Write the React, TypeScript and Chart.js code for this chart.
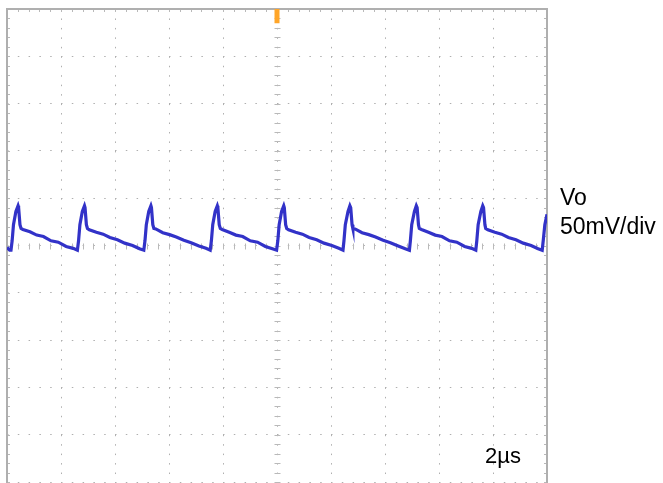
import React, { useEffect, useRef } from "react";
import { Chart, registerables } from "chart.js";

Chart.register(...registerables);

// Time axis (µs), 2 µs/div, 10 divisions
const xMinUs = 0;
const xMaxUs = 20;
const xDivUs = 2;
// Voltage axis (mV), 50 mV/div, 10 divisions
const yMinMv = -250;
const yMaxMv = 250;
const yDivMv = 50;

// Vo ripple trace
const timeUs = [
  0, 0.1,
  0.148, 0.19, 0.24, 0.33, 0.41, 0.43, 0.48, 0.52, 0.59, 0.85, 1.1, 1.35, 1.63, 1.9, 2.19, 2.45,
  2.607, 2.65, 2.7, 2.79, 2.87, 2.89, 2.94, 2.98, 3.05, 3.31, 3.56, 3.81, 4.09, 4.36, 4.65, 4.91,
  5.067, 5.11, 5.16, 5.25, 5.33, 5.35, 5.4, 5.44, 5.51, 5.77, 6.02, 6.27, 6.55, 6.82, 7.11, 7.37,
  7.526, 7.57, 7.62, 7.71, 7.79, 7.81, 7.86, 7.9, 7.97, 8.23, 8.48, 8.73, 9.01, 9.28, 9.57, 9.83,
  9.985, 10.03, 10.08, 10.17, 10.25, 10.27, 10.32, 10.36, 10.43, 10.69, 10.94, 11.19, 11.47, 11.74, 12.03, 12.29,
  12.444, 12.48, 12.53, 12.63, 12.7, 12.73, 12.78, 12.81, 12.89, 13.15, 13.4, 13.65, 13.93, 14.2, 14.49, 14.75,
  14.904, 14.94, 14.99, 15.09, 15.16, 15.19, 15.24, 15.27, 15.35, 15.61, 15.86, 16.11, 16.39, 16.66, 16.95, 17.21,
  17.363, 17.4, 17.45, 17.55, 17.62, 17.65, 17.7, 17.73, 17.81, 18.07, 18.32, 18.57, 18.85, 19.12, 19.41, 19.67,
  19.822, 19.86, 19.92, 20.0,
];
const voMv = [
  -2, -5,
  -5, 5, 22, 36, 42, 40, 22, 18, 17, 14.5, 11, 9.5, 5, 3.5, -1, -3,
  -5, 5, 22, 36, 42, 40, 22, 18, 16.5, 14, 12, 8.5, 6, 2.5, 0, -3.5,
  -5, 5, 22, 36, 42, 40, 22, 18, 17.5, 13.5, 11.5, 9, 5.5, 3, -0.5, -3,
  -5, 5, 22, 36, 42, 40, 22, 18, 17, 14, 11, 9.5, 5, 3.5, -1, -3.5,
  -5, 5, 22, 36, 42, 40, 22, 18, 16.5, 14, 12, 8.5, 6, 2.5, 0, -3,
  -5, 5, 22, 36, 42, 40, 22, 18, 17.5, 13.5, 11.5, 9, 5.5, 3, -0.5, -3.5,
  -5, 5, 22, 36, 42, 40, 22, 18, 17, 14, 11, 9.5, 5, 3.5, -1, -3,
  -5, 5, 22, 36, 42, 40, 22, 18, 16.5, 14, 12, 8.5, 6, 2.5, 0, -3.5,
  -5, 5, 22, 33,
];

// Trigger position marker at the top of the screen
const triggerUs = [10, 10];
const triggerMv = [250, 235];

const channelLabel = "Vo";
const scaleLabel = "50mV/div";
const timeLabel = "2µs";

const scopeFrame = {
  id: "scopeFrame",
  beforeDatasetsDraw(chart: any) {
    const { ctx, chartArea: a, scales } = chart;
    const xs = scales.x;
    const ys = scales.y;
    const cx = Math.round(xs.getPixelForValue((xMinUs + xMaxUs) / 2)) + 0.5;
    const cy = Math.round(ys.getPixelForValue(0)) + 0.5;
    ctx.save();
    ctx.strokeStyle = "rgb(185,185,185)";
    ctx.lineWidth = 1;
    ctx.beginPath();
    const nx = Math.round((xMaxUs - xMinUs) / (xDivUs / 5));
    for (let k = 0; k <= nx; k++) {
      const x = Math.round(xs.getPixelForValue(xMinUs + (k * xDivUs) / 5)) + 0.5;
      ctx.moveTo(x, cy - 3);
      ctx.lineTo(x, cy + 3);
      ctx.moveTo(x, a.top);
      ctx.lineTo(x, a.top + 3);
    }
    const ny = Math.round((yMaxMv - yMinMv) / (yDivMv / 5));
    for (let k = 0; k <= ny; k++) {
      const y = Math.round(ys.getPixelForValue(yMinMv + (k * yDivMv) / 5)) + 0.5;
      ctx.moveTo(cx - 3, y);
      ctx.lineTo(cx + 3, y);
      ctx.moveTo(a.left, y);
      ctx.lineTo(a.left + 3, y);
      ctx.moveTo(a.right, y);
      ctx.lineTo(a.right - 3, y);
    }
    ctx.stroke();
    ctx.strokeStyle = "rgb(175,175,175)";
    ctx.lineWidth = 2;
    ctx.beginPath();
    ctx.moveTo(a.left, a.bottom + 4);
    ctx.lineTo(a.left, a.top);
    ctx.lineTo(a.right, a.top);
    ctx.lineTo(a.right, a.bottom + 4);
    ctx.stroke();
    ctx.restore();
  },
};

export default function App() {
  const canvasRef = useRef<HTMLCanvasElement | null>(null);

  useEffect(() => {
    if (!canvasRef.current) return;
    const trace = timeUs.map((t, i) => ({ x: t, y: voMv[i] }));
    const trigger = triggerUs.map((t, i) => ({ x: t, y: triggerMv[i] }));
    const chart = new Chart(canvasRef.current, {
      type: "scatter",
      data: {
        datasets: [
          {
            label: channelLabel,
            data: trace,
            showLine: true,
            borderColor: "rgb(50,50,200)",
            borderWidth: 3.2,
            pointRadius: 0,
            tension: 0,
          },
          {
            label: "trigger",
            data: trigger,
            showLine: true,
            borderColor: "rgb(255,165,40)",
            borderWidth: 5,
            pointRadius: 0,
            clip: false as any,
          },
        ],
      },
      options: {
        animation: false,
        responsive: false,
        devicePixelRatio: 1,
        layout: { padding: { left: 7, top: 9, right: 116, bottom: 1 } },
        plugins: { legend: { display: false }, tooltip: { enabled: false } },
        scales: {
          x: {
            type: "linear",
            min: xMinUs,
            max: xMaxUs,
            ticks: { display: false, stepSize: xDivUs },
            grid: { color: "rgb(175,175,175)", lineWidth: 1, drawTicks: false },
            border: { display: false, dash: [1.5, 7.96] },
          },
          y: {
            type: "linear",
            min: yMinMv,
            max: yMaxMv,
            ticks: { display: false, stepSize: yDivMv },
            grid: { color: "rgb(175,175,175)", lineWidth: 1, drawTicks: false },
            border: { display: false, dash: [1.5, 9.3] },
          },
        },
      },
      plugins: [scopeFrame],
    });
    return () => chart.destroy();
  }, []);

  const font = '"Liberation Sans", Arial, sans-serif';
  return (
    <div style={{ position: "fixed", left: 0, top: 0, width: 663, height: 483, background: "#fff" }}>
      <canvas ref={canvasRef} width={663} height={483} style={{ display: "block", width: 663, height: 483 }} />
      <div style={{ position: "absolute", left: 560, top: 185.5, fontFamily: font, fontSize: 23, lineHeight: "23px", color: "#000", whiteSpace: "nowrap" }}>{channelLabel}</div>
      <div style={{ position: "absolute", left: 560, top: 214.5, fontFamily: font, fontSize: 23, lineHeight: "23px", color: "#000", whiteSpace: "nowrap" }}>{scaleLabel}</div>
      <div style={{ position: "absolute", left: 485, top: 445.4, fontFamily: font, fontSize: 22, lineHeight: "22px", color: "#000", whiteSpace: "nowrap" }}>{timeLabel}</div>
    </div>
  );
}
